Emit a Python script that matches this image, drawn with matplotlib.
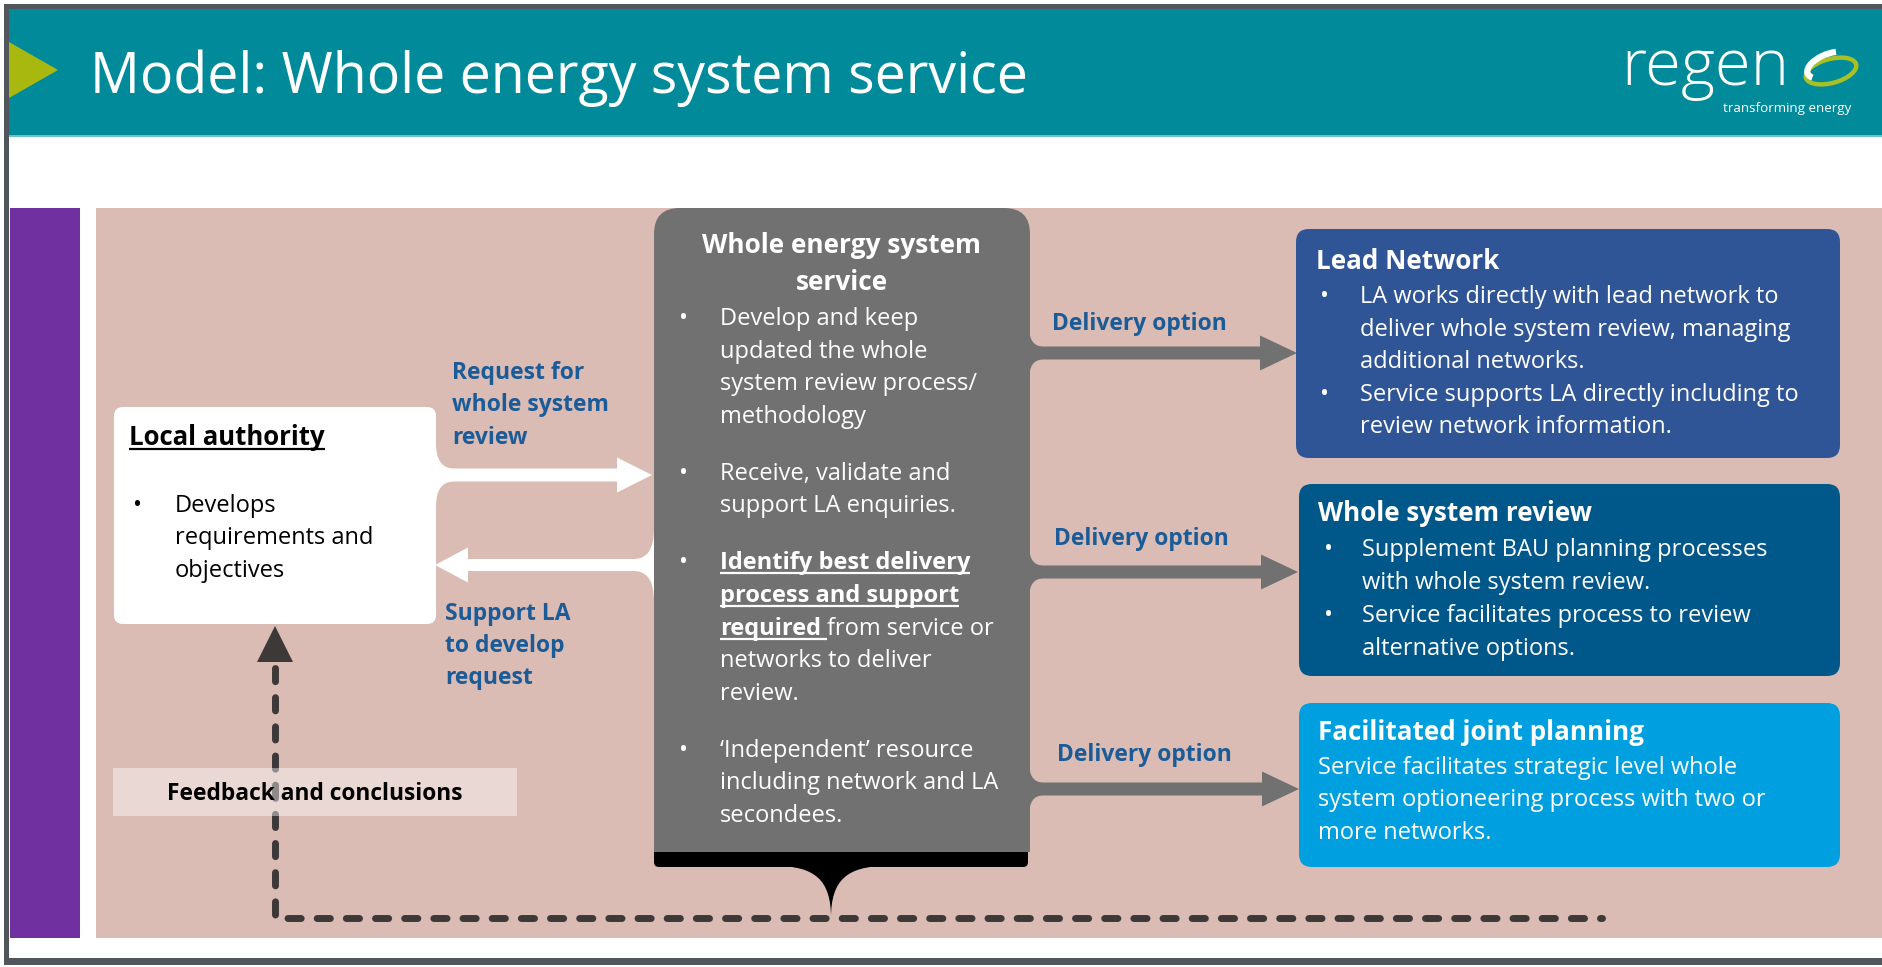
import matplotlib.pyplot as plt
from matplotlib.patches import FancyBboxPatch, Rectangle, Polygon, PathPatch, Ellipse, Arc
from matplotlib.path import Path

plt.rcParams['font.family'] = ['Open Sans', 'DejaVu Sans']

# ---- text content of the diagram
header_title = 'Model: Whole energy system service'
la_title = 'Local authority'
la_lines = ['Develops', 'requirements and', 'objectives']
request_label = ['Request for', 'whole system', 'review']
support_label = ['Support LA', 'to develop', 'request']
service_title = ['Whole energy system', 'service']
service_para1 = ['Develop and keep', 'updated the whole', 'system review process/', 'methodology']
service_para2 = ['Receive, validate and', 'support LA enquiries.']
service_para3_bold = ['Identify best delivery', 'process and support', 'required']
service_para3_rest = ['from service or', 'networks to deliver', 'review.']
service_para4 = ['\u2018Independent\u2019 resource', 'including network and LA', 'secondees.']
delivery_label = 'Delivery option'
lead_title = 'Lead Network'
lead_bullets = [['LA works directly with lead network to', 'deliver whole system review, managing',
                 'additional networks.'],
                ['Service supports LA directly including to', 'review network information.']]
review_title = 'Whole system review'
review_bullets = [['Supplement BAU planning processes', 'with whole system review.'],
                  ['Service facilitates process to review', 'alternative options.']]
joint_title = 'Facilitated joint planning'
joint_lines = ['Service facilitates strategic level whole', 'system optioneering process with two or',
               'more networks.']
feedback_text = 'Feedback and conclusions'

# colours
teal = '#018b9a'
pink = '#dbbcb5'
purple = '#7030a0'
grey = '#707170'
dark = '#3c3938'
label_blue = '#1b5c98'
box_colors = ['#2f5597', '#00578a', '#00a0e0']

fig = plt.figure(figsize=(18.82, 9.67), dpi=100)
ax = fig.add_axes([0, 0, 1, 1])
ax.set_xlim(0, 1882)
ax.set_ylim(967, 0)
ax.axis('off')


def txt(x, y, s, size, color='white', weight='normal', ha='left', z=10):
    return ax.text(x, y, s, fontsize=size, color=color, fontweight=weight,
                   ha=ha, va='baseline', zorder=z)


def flared_arrow(x0, xh, xt, yc, half, head, rx, ry, color, back=2, z=4):
    d = 1 if xt > x0 else -1
    verts = [(x0 - back * d, yc - half - ry), (x0, yc - half - ry),
             (x0, yc - half), (x0 + d * rx, yc - half),
             (xh, yc - half), (xh, yc - head), (xt, yc), (xh, yc + head), (xh, yc + half),
             (x0 + d * rx, yc + half), (x0, yc + half), (x0, yc + half + ry),
             (x0 - back * d, yc + half + ry), (x0 - back * d, yc - half - ry)]
    codes = [Path.MOVETO, Path.LINETO, Path.CURVE3, Path.CURVE3, Path.LINETO, Path.LINETO,
             Path.LINETO, Path.LINETO, Path.LINETO, Path.LINETO, Path.CURVE3, Path.CURVE3,
             Path.LINETO, Path.CLOSEPOLY]
    ax.add_patch(PathPatch(Path(verts, codes), fc=color, ec='none', zorder=z))


# ---- frame and header
ax.add_patch(Rectangle((4, 4), 1878, 5, fc='#50565b', ec='none'))
ax.add_patch(Rectangle((4, 4), 5, 961, fc='#50565b', ec='none'))
ax.add_patch(Rectangle((4, 958), 1878, 7, fc='#50565b', ec='none'))
ax.add_patch(Rectangle((9, 9), 1873, 127, fc=teal, ec='none'))
ax.add_patch(Rectangle((9, 135), 1873, 1.5, fc='#6cc0c8', ec='none'))
ax.add_patch(Polygon([(9, 42), (58, 70), (9, 98)], fc='#a9b80f', ec='none'))
txt(90, 93, header_title, 40)

# logo
txt(1621, 85, 'regen', 47, weight='light')
txt(1723, 112, 'transforming energy', 9.6)
ax.add_patch(Ellipse((1831, 71), 52, 24, angle=-15, fc='none', ec='#a8c023', lw=3.2, zorder=5))
ax.add_patch(Arc((1829, 65), 46, 22, angle=-22, theta1=165, theta2=320, ec='white', lw=4.5,
                 zorder=6))

# ---- panels
ax.add_patch(Rectangle((10, 208), 70, 730, fc=purple, ec='none'))
ax.add_patch(Rectangle((96, 208), 1786, 730, fc=pink, ec='none'))

# ---- feedback dashed line
ax.add_patch(Polygon([(257, 662), (293, 662), (275, 626)], fc=dark, ec='none', zorder=3))
ax.plot([275, 275, 1602], [668, 918, 918], color=dark, lw=5, linestyle=(0, (1.9, 2.3)),
        dash_capstyle='round', solid_joinstyle='round', zorder=3)
ax.add_patch(Rectangle((113, 768), 404, 48, fc='white', alpha=0.42, ec='none', zorder=4))
txt(315, 800, feedback_text, 16.4, color='black', weight='bold', ha='center')

# ---- local authority box
ax.add_patch(FancyBboxPatch((114, 407), 322, 217, boxstyle='round,pad=0,rounding_size=9',
                            fc='white', ec='none', zorder=3))
flared_arrow(436, 617, 652, 475, 6.5, 17.5, 18, 25, 'white')
flared_arrow(654, 468, 435, 565, 6, 17.5, 20, 30, 'white', back=0)

# ---- central grey box
ax.add_patch(FancyBboxPatch((654, 840), 374, 27, boxstyle='round,pad=0,rounding_size=5',
                            fc='black', ec='none', zorder=5))
ax.add_patch(FancyBboxPatch((654, 208), 376, 640, boxstyle='round,pad=0,rounding_size=26',
                            fc=grey, ec='none', zorder=5))
ax.add_patch(Rectangle((654, 800), 376, 52, fc=grey, ec='none', zorder=5))
cusp = Path([(775, 866), (815, 866), (831, 880), (831, 918), (831, 880), (847, 866), (887, 866),
             (775, 866)],
            [Path.MOVETO, Path.CURVE4, Path.CURVE4, Path.CURVE4, Path.CURVE4, Path.CURVE4,
             Path.CURVE4, Path.CLOSEPOLY])
ax.add_patch(PathPatch(cusp, fc='black', ec='none', zorder=5))

# delivery option arrows
for yc, tip in zip([353, 572, 789], [1297, 1298, 1299]):
    flared_arrow(1029, tip - 37, tip, yc, 6.5, 17.5, 14, 20, grey, z=5)
for (x, y) in [(1052, 330), (1054, 545), (1057, 761)]:
    txt(x, y, delivery_label, 16.5, color=label_blue, weight='bold')

# labels next to white arrows
for i, s in enumerate(request_label):
    txt(452, 379 + i * 32.3, s, 16.5, color=label_blue, weight='bold')
for i, s in enumerate(support_label):
    txt(445, 620 + i * 32, s, 16.5, color=label_blue, weight='bold')

fig.canvas.draw()
renderer = fig.canvas.get_renderer()
inv = ax.transData.inverted()


def x_extent(t):
    bb = t.get_window_extent(renderer)
    return inv.transform((bb.x0, 0))[0], inv.transform((bb.x1, 0))[0]


def underline(t, y, color, extra=0):
    x0, x1 = x_extent(t)
    ax.plot([x0, x1 + extra], [y + 4, y + 4], color=color, lw=1.6, solid_capstyle='butt', zorder=10)


# local authority text
t = txt(129, 445, la_title, 18.5, color='black', weight='bold')
underline(t, 445, 'black')
txt(133, 512, '\u2022', 17, color='black')
for i, s in enumerate(la_lines):
    txt(175, 512 + i * 32.5, s, 17, color='black')

# service box text
txt(842, 253, service_title[0], 18.9, weight='bold', ha='center')
txt(842, 290, service_title[1], 18.9, weight='bold', ha='center')
ls = 32.6
y = 325
for para in [service_para1, service_para2]:
    txt(679, y, '\u2022', 17)
    for s in para:
        txt(720, y, s, 17)
        y += ls
    y += 24.4
txt(679, y, '\u2022', 17)
for i, s in enumerate(service_para3_bold):
    t = txt(720, y, s, 17, weight='bold')
    if i < 2:
        underline(t, y, 'white')
        y += ls
gap = 6
x0, x1 = x_extent(t)
underline(t, y, 'white', extra=gap)
txt(x1 + gap, y, service_para3_rest[0], 17)
for s in service_para3_rest[1:]:
    y += ls
    txt(720, y, s, 17)
y += ls + 24.4
txt(679, y, '\u2022', 17)
for s in service_para4:
    txt(720, y, s, 17)
    y += ls

# ---- right hand boxes
ax.add_patch(FancyBboxPatch((1296, 229), 544, 229, boxstyle='round,pad=0,rounding_size=13',
                            fc=box_colors[0], ec='none', zorder=6))
ax.add_patch(FancyBboxPatch((1299, 484), 541, 192, boxstyle='round,pad=0,rounding_size=13',
                            fc=box_colors[1], ec='none', zorder=6))
ax.add_patch(FancyBboxPatch((1299, 703), 541, 164, boxstyle='round,pad=0,rounding_size=13',
                            fc=box_colors[2], ec='none', zorder=6))

txt(1316, 269, lead_title, 18.7, weight='bold')
y = 303
for para in lead_bullets:
    txt(1320, y, '\u2022', 17)
    for s in para:
        txt(1360, y, s, 17)
        y += 32.6

txt(1318, 521, review_title, 18.7, weight='bold')
y = 556
for para in review_bullets:
    txt(1324, y, '\u2022', 17)
    for s in para:
        txt(1362, y, s, 17)
        y += 33

txt(1318, 740, joint_title, 18.7, weight='bold')
for i, s in enumerate(joint_lines):
    txt(1318, 774 + i * 32.5, s, 17)

fig.savefig('out.png', dpi=100)
